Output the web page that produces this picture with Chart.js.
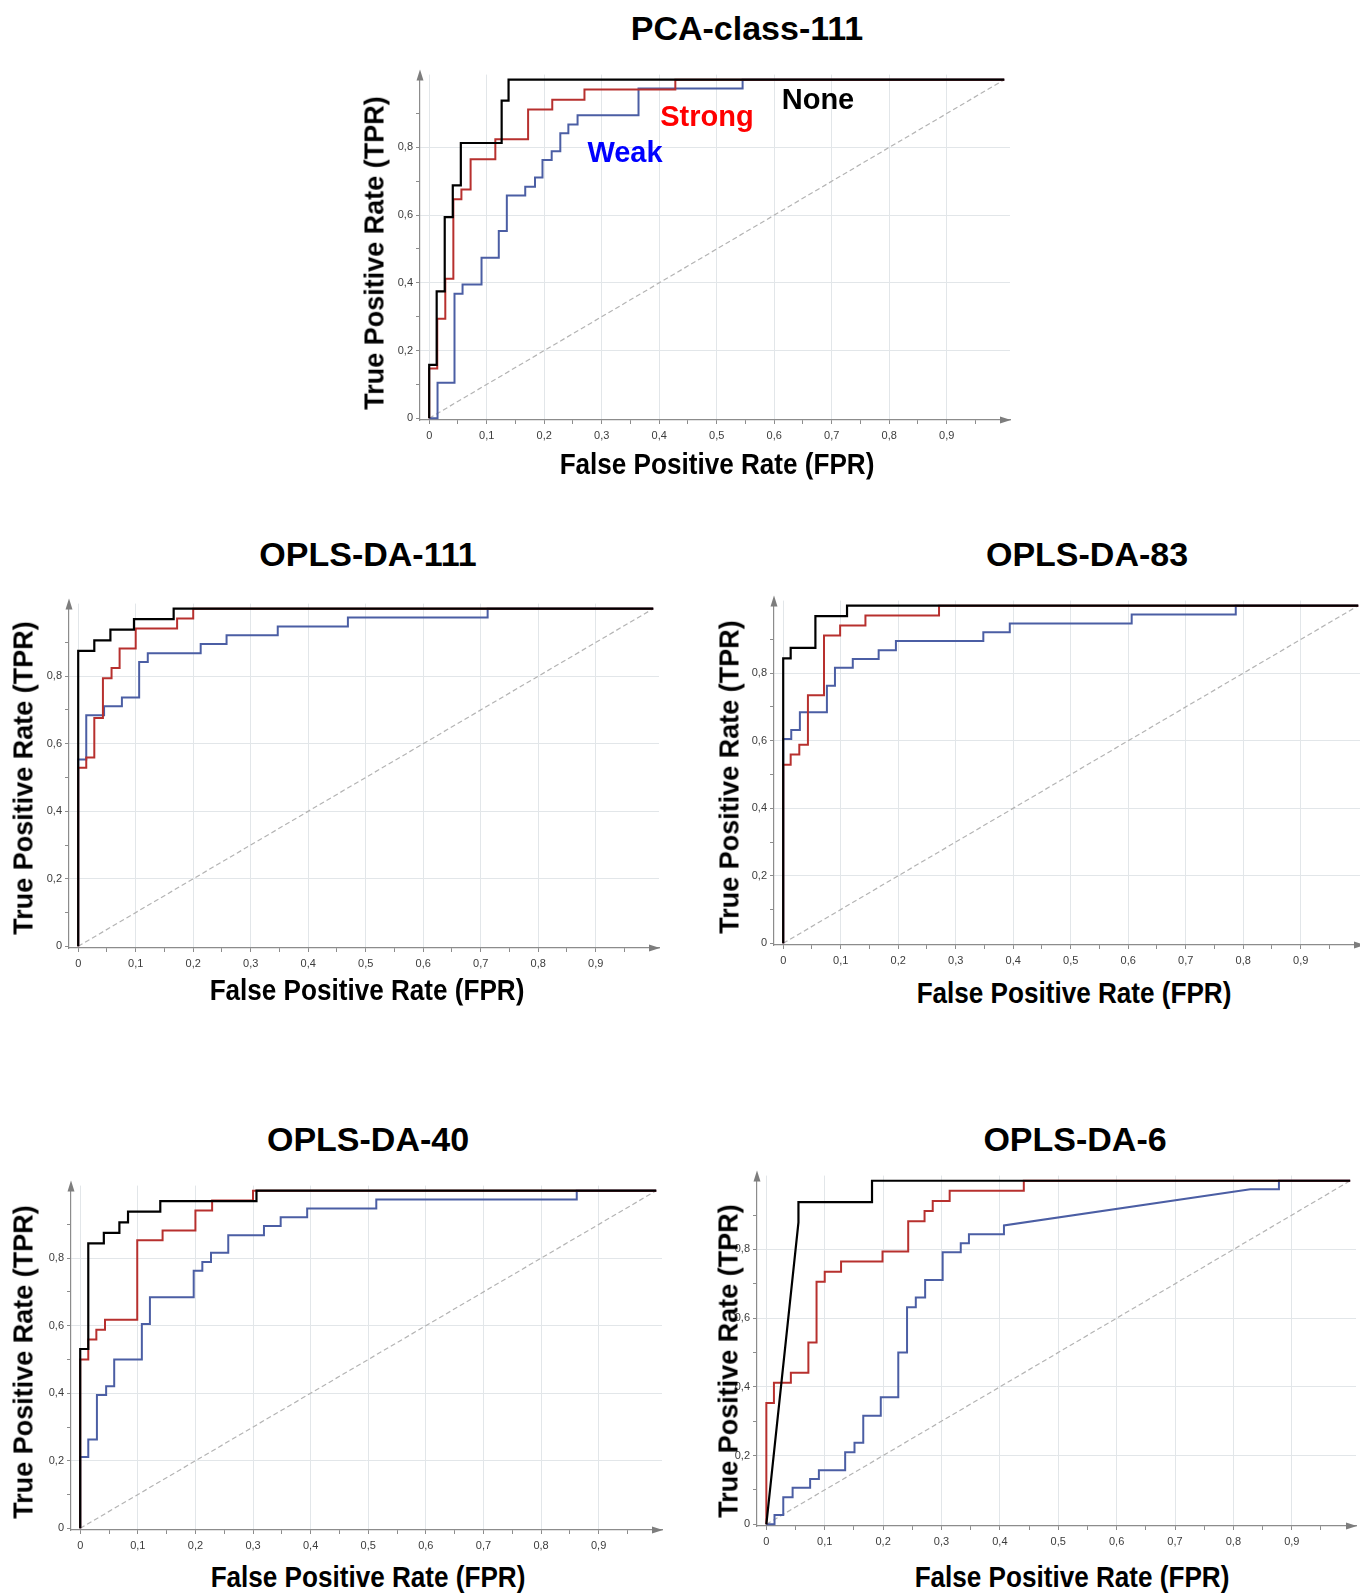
<!DOCTYPE html>
<html>
<head>
<meta charset="utf-8">
<script src="https://cdn.jsdelivr.net/npm/chart.js@4.4.0/dist/chart.umd.min.js"></script>
<style>
  html, body { margin: 0; padding: 0; background: #fff; overflow: hidden; }
  body { width: 1360px; height: 1593px; position: relative; font-family: "Liberation Sans", Arial, Helvetica, sans-serif; }
  .txt { position: absolute; white-space: nowrap; font-weight: bold; line-height: 1; transform: translate(-50%, -50%); }
  .title { font-size: 34px; color: #000; }
  .xt { font-size: 29px; transform: translate(-50%, -50%) scaleX(0.9); }
  .yt { font-size: 27px; transform: translate(-50%, -50%) rotate(-90deg); }
  .tag { font-size: 29px; }
  canvas { position: absolute; }
</style>
</head>
<body>
<script>
// axis ticks (comma decimals like the original)
const xMajor = [0, 0.1, 0.2, 0.3, 0.4, 0.5, 0.6, 0.7, 0.8, 0.9];
const xTickLabels = ['0', '0,1', '0,2', '0,3', '0,4', '0,5', '0,6', '0,7', '0,8', '0,9'];
const xMinor = [0.05, 0.15, 0.25, 0.35, 0.45, 0.55, 0.65, 0.75, 0.85, 0.95];
const yMajor = [0, 0.2, 0.4, 0.6, 0.8];
const yTickLabels = ['0', '0,2', '0,4', '0,6', '0,8'];
const yMinor = [0.1, 0.3, 0.5, 0.7, 0.9];
const diagonal = [0, 1];

// PCA-class-111
const pcaNoneFpr = [0, 0, 0.013, 0.027, 0.041, 0.055, 0.126, 0.138, 1];
const pcaNoneTpr = [0, 0.158, 0.375, 0.594, 0.688, 0.813, 0.938, 1, 1];
const pcaStrongFpr = [0, 0, 0.014, 0.028, 0.042, 0.056, 0.072, 0.115, 0.172, 0.214, 0.27, 0.428, 1];
const pcaStrongTpr = [0, 0.147, 0.294, 0.412, 0.647, 0.676, 0.765, 0.824, 0.912, 0.941, 0.971, 1, 1];
const pcaWeakFpr = [0, 0.0145, 0.044, 0.058, 0.091, 0.121, 0.135, 0.167, 0.184, 0.197, 0.213, 0.228, 0.242, 0.258, 0.364, 0.545, 1];
const pcaWeakTpr = [0, 0.105, 0.368, 0.395, 0.474, 0.553, 0.658, 0.684, 0.711, 0.763, 0.789, 0.842, 0.868, 0.895, 0.974, 1, 1];

// OPLS-DA-111
const o111NoneFpr = [0, 0, 0.028, 0.056, 0.097, 0.166, 1];
const o111NoneTpr = [0, 0.875, 0.906, 0.938, 0.969, 1, 1];
const o111StrongFpr = [0, 0, 0.014, 0.028, 0.043, 0.058, 0.072, 0.1, 0.172, 0.2, 1];
const o111StrongTpr = [0, 0.529, 0.559, 0.676, 0.794, 0.824, 0.882, 0.941, 0.971, 1, 1];
const o111WeakFpr = [0, 0, 0.014, 0.045, 0.076, 0.106, 0.121, 0.213, 0.258, 0.347, 0.469, 0.712, 1];
const o111WeakTpr = [0, 0.553, 0.684, 0.711, 0.737, 0.842, 0.868, 0.895, 0.921, 0.947, 0.974, 1, 1];

// OPLS-DA-83
const o83NoneFpr = [0, 0, 0.013, 0.056, 0.111, 1];
const o83NoneTpr = [0, 0.844, 0.875, 0.969, 1, 1];
const o83StrongFpr = [0, 0, 0.013, 0.028, 0.043, 0.071, 0.099, 0.143, 0.271, 1];
const o83StrongTpr = [0, 0.529, 0.559, 0.588, 0.735, 0.912, 0.941, 0.971, 1, 1];
const o83WeakFpr = [0, 0, 0.014, 0.029, 0.076, 0.09, 0.121, 0.166, 0.196, 0.348, 0.394, 0.606, 0.787, 1];
const o83WeakTpr = [0, 0.605, 0.632, 0.684, 0.763, 0.816, 0.842, 0.868, 0.895, 0.921, 0.947, 0.974, 1, 1];

// OPLS-DA-40
const o40NoneFpr = [0, 0, 0.014, 0.041, 0.068, 0.083, 0.139, 0.306, 1];
const o40NoneTpr = [0, 0.531, 0.844, 0.875, 0.906, 0.938, 0.969, 1, 1];
const o40StrongFpr = [0, 0, 0.014, 0.028, 0.043, 0.099, 0.143, 0.2, 0.229, 0.3, 1];
const o40StrongTpr = [0, 0.5, 0.559, 0.588, 0.618, 0.853, 0.882, 0.941, 0.971, 1, 1];
const o40WeakFpr = [0, 0, 0.014, 0.029, 0.045, 0.059, 0.107, 0.121, 0.197, 0.212, 0.227, 0.257, 0.319, 0.348, 0.394, 0.514, 0.862, 1];
const o40WeakTpr = [0, 0.211, 0.263, 0.395, 0.421, 0.5, 0.605, 0.684, 0.763, 0.789, 0.816, 0.868, 0.895, 0.921, 0.947, 0.974, 1, 1];

// OPLS-DA-6 (None and Weak have sloped pieces, so these are plain vertices)
const o6NoneFpr = [0, 0.055, 0.055, 0.181, 0.181, 1];
const o6NoneTpr = [0, 0.879, 0.938, 0.938, 1, 1];
const o6StrongFpr = [0, 0, 0.013, 0.042, 0.072, 0.086, 0.1, 0.128, 0.199, 0.243, 0.271, 0.285, 0.314, 0.441, 1];
const o6StrongTpr = [0, 0.353, 0.412, 0.441, 0.529, 0.706, 0.735, 0.765, 0.794, 0.882, 0.912, 0.941, 0.971, 1, 1];
const o6WeakFpr = [0, 0.014, 0.014, 0.029, 0.029, 0.045, 0.045, 0.075, 0.075, 0.09, 0.09, 0.135, 0.135, 0.151, 0.151, 0.166, 0.166, 0.196, 0.196, 0.226, 0.226, 0.241, 0.241, 0.256, 0.256, 0.272, 0.272, 0.302, 0.302, 0.333, 0.333, 0.347, 0.347, 0.407, 0.407, 0.829, 0.878, 0.878, 1];
const o6WeakTpr = [0, 0, 0.027, 0.027, 0.079, 0.079, 0.106, 0.106, 0.132, 0.132, 0.157, 0.157, 0.21, 0.21, 0.237, 0.237, 0.316, 0.316, 0.37, 0.37, 0.5, 0.5, 0.632, 0.632, 0.66, 0.66, 0.711, 0.711, 0.792, 0.792, 0.818, 0.818, 0.844, 0.844, 0.87, 0.975, 0.975, 1, 1];

const NONE_COLOR = '#000000';
const STRONG_COLOR = '#b7302e';
const WEAK_COLOR = '#4b5ea4';
const GRID_COLOR = '#e2e6e9';
const AXIS_COLOR = '#8c8c8c';

// axis range: a little room left of 0 and above 1, like the source plots
const X_MIN = -0.016, X_MAX = 1.01, Y_MIN = -0.005, Y_MAX = 1.015;
const AX_W = 45, AX_H = 28, PAD_T = 6, PAD_R = 12;

function pts(fpr, tpr) {
    return fpr.map((x, i) => ({ x: x, y: tpr[i] }));
}

function addText(cls, text, x, y, color) {
    const d = document.createElement('div');
    d.className = 'txt ' + cls;
    d.textContent = text;
    d.style.left = x + 'px';
    d.style.top = y + 'px';
    if (color) d.style.color = color;
    document.body.appendChild(d);
}

const axisArrows = {
    id: 'axisArrows',
    afterDraw(chart) {
        const ctx = chart.ctx, a = chart.chartArea;
        ctx.save();
        ctx.fillStyle = '#7d7d7d';
        ctx.beginPath();
        ctx.moveTo(a.right + 1, a.bottom);
        ctx.lineTo(a.right - 10, a.bottom - 3.5);
        ctx.lineTo(a.right - 10, a.bottom + 3.5);
        ctx.closePath();
        ctx.fill();
        ctx.beginPath();
        ctx.moveTo(a.left, a.top - 5);
        ctx.lineTo(a.left - 3.5, a.top + 6);
        ctx.lineTo(a.left + 3.5, a.top + 6);
        ctx.closePath();
        ctx.fill();
        ctx.restore();
    }
};

function isIn(list, v) {
    return list.findIndex(m => Math.abs(m - v) < 1e-6);
}

function makePanel(p) {
    const W = p.x1 - p.x0, H = p.y0 - p.y1;
    const left = Math.round(p.x0 + X_MIN * W), right = Math.round(p.x0 + X_MAX * W);
    const top = Math.round(p.y0 - Y_MAX * H), bottom = Math.round(p.y0 - Y_MIN * H);

    const canvas = document.createElement('canvas');
    canvas.width = right - left + AX_W + PAD_R;
    canvas.height = bottom - top + PAD_T + AX_H;
    canvas.style.left = (left - AX_W) + 'px';
    canvas.style.top = (top - PAD_T) + 'px';
    document.body.appendChild(canvas);

    const tickFont = { family: '"Liberation Sans", Arial, sans-serif', size: 11 };

    // ROC staircases: go across first, then up (Chart.js 'before' mode)
    const datasets = p.series.map(s => ({
        data: pts(s.fpr, s.tpr),
        borderColor: s.color,
        borderWidth: s.width,
        stepped: s.stepped ? 'before' : false,
        pointRadius: 0,
        showLine: true,
        fill: false
    }));
    datasets.push({
        data: pts(diagonal, diagonal),
        borderColor: '#b4b4b4',
        borderWidth: 1.2,
        borderDash: [5, 3],
        pointRadius: 0,
        showLine: true,
        fill: false
    });

    new Chart(canvas, {
        type: 'scatter',
        data: { datasets: datasets },
        options: {
            responsive: false,
            animation: false,
            devicePixelRatio: 1,
            layout: { padding: { top: PAD_T, right: PAD_R, left: 0, bottom: 0 } },
            plugins: { legend: { display: false }, tooltip: { enabled: false } },
            scales: {
                x: {
                    type: 'linear',
                    min: X_MIN,
                    max: X_MAX,
                    afterBuildTicks: s => {
                        s.ticks = xMajor.concat(xMinor).sort((a, b) => a - b).map(v => ({ value: v }));
                    },
                    afterFit: s => { s.height = AX_H; },
                    ticks: {
                        autoSkip: false,
                        maxRotation: 0,
                        minRotation: 0,
                        padding: 5,
                        color: '#3c3c3c',
                        font: tickFont,
                        callback: v => {
                            const i = isIn(xMajor, v);
                            return i >= 0 ? xTickLabels[i] : '';
                        }
                    },
                    grid: {
                        color: c => (c.tick && isIn(xMajor, c.tick.value) >= 0) ? GRID_COLOR : 'rgba(0,0,0,0)',
                        tickColor: AXIS_COLOR,
                        tickLength: 4
                    },
                    border: { display: true, color: AXIS_COLOR, width: 1.2 }
                },
                y: {
                    type: 'linear',
                    min: Y_MIN,
                    max: Y_MAX,
                    afterBuildTicks: s => {
                        s.ticks = yMajor.concat(yMinor).sort((a, b) => a - b).map(v => ({ value: v }));
                    },
                    afterFit: s => { s.width = AX_W; },
                    ticks: {
                        autoSkip: false,
                        padding: 3,
                        color: '#3c3c3c',
                        font: tickFont,
                        callback: v => {
                            const i = isIn(yMajor, v);
                            return i >= 0 ? yTickLabels[i] : '';
                        }
                    },
                    grid: {
                        color: c => (c.tick && isIn(yMajor, c.tick.value) > 0) ? GRID_COLOR : 'rgba(0,0,0,0)',
                        tickColor: AXIS_COLOR,
                        tickLength: 4
                    },
                    border: { display: true, color: AXIS_COLOR, width: 1.2 }
                }
            }
        },
        plugins: [axisArrows]
    });

    addText('title', p.title, p.titleX, p.titleY);
    addText('xt', 'False Positive Rate (FPR)', p.xtX, p.xtY);
    addText('yt', 'True Positive Rate (TPR)', p.ytX, p.ytY);
}

function trio(noneF, noneT, strF, strT, weakF, weakT, steppedNone, steppedWeak) {
    return [
        { fpr: noneF, tpr: noneT, color: NONE_COLOR, width: 2.2, stepped: steppedNone },
        { fpr: strF, tpr: strT, color: STRONG_COLOR, width: 2, stepped: true },
        { fpr: weakF, tpr: weakT, color: WEAK_COLOR, width: 2, stepped: steppedWeak }
    ];
}

const panels = [
    { title: 'PCA-class-111', x0: 429.6, x1: 1004, y0: 418.4, y1: 76,
      titleX: 747, titleY: 28, xtX: 717, xtY: 464, ytX: 375, ytY: 253,
      series: trio(pcaNoneFpr, pcaNoneTpr, pcaStrongFpr, pcaStrongTpr, pcaWeakFpr, pcaWeakTpr, true, true) },
    { title: 'OPLS-DA-111', x0: 78.2, x1: 653.7, y0: 946.6, y1: 605.3,
      titleX: 368, titleY: 554, xtX: 367, xtY: 990, ytX: 24, ytY: 778,
      series: trio(o111NoneFpr, o111NoneTpr, o111StrongFpr, o111StrongTpr, o111WeakFpr, o111WeakTpr, true, true) },
    { title: 'OPLS-DA-83', x0: 783, x1: 1358.5, y0: 943.5, y1: 602,
      titleX: 1087, titleY: 554, xtX: 1074, xtY: 993, ytX: 730, ytY: 777,
      series: trio(o83NoneFpr, o83NoneTpr, o83StrongFpr, o83StrongTpr, o83WeakFpr, o83WeakTpr, true, true) },
    { title: 'OPLS-DA-40', x0: 80.2, x1: 655.8, y0: 1528.5, y1: 1187,
      titleX: 368, titleY: 1139, xtX: 368, xtY: 1577, ytX: 24, ytY: 1362,
      series: trio(o40NoneFpr, o40NoneTpr, o40StrongFpr, o40StrongTpr, o40WeakFpr, o40WeakTpr, true, true) },
    { title: 'OPLS-DA-6', x0: 766.8, x1: 1350, y0: 1524.5, y1: 1177.5,
      titleX: 1075, titleY: 1139, xtX: 1072, xtY: 1577, ytX: 729, ytY: 1361,
      series: trio(o6NoneFpr, o6NoneTpr, o6StrongFpr, o6StrongTpr, o6WeakFpr, o6WeakTpr, false, false) }
];

panels.forEach(makePanel);

// curve labels on the first panel
addText('tag', 'None', 818, 99, '#000000');
addText('tag', 'Strong', 707, 116, '#ff0000');
addText('tag', 'Weak', 625, 152, '#0000ff');
</script>
</body>
</html>
